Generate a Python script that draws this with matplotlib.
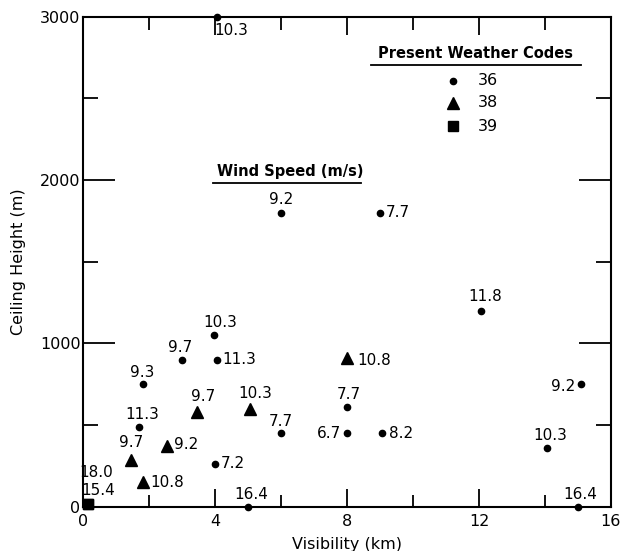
import matplotlib.pyplot as plt
from matplotlib.ticker import MultipleLocator

plt.rcParams['font.family'] = ['DejaVu Sans']
plt.rcParams['font.size'] = 11

# code 36 (dots)
vis_36 = [4.05, 6.0, 9.0, 12.05, 8.0, 8.0, 9.05, 15.1, 14.05, 15.0,
          3.95, 3.0, 4.05, 1.8, 1.7, 6.0, 4.0, 5.0]
ceil_36 = [3000, 1800, 1800, 1200, 610, 450, 450, 750, 360, 0,
           1050, 900, 900, 750, 490, 450, 260, 0]
wind_36 = ['10.3', '9.2', '7.7', '11.8', '7.7', '6.7', '8.2', '9.2', '10.3', '16.4',
           '10.3', '9.7', '11.3', '9.3', '11.3', '7.7', '7.2', '16.4']

# code 38 (triangles)
vis_38 = [8.0, 3.45, 5.05, 1.45, 2.55, 1.8]
ceil_38 = [910, 580, 600, 290, 370, 150]
wind_38 = ['10.8', '9.7', '10.3', '9.7', '9.2', '10.8']

# code 39 (squares)
vis_39 = [0.15, 0.15]
ceil_39 = [20, 20]
wind_39 = ['18.0', '15.4']

legend_codes = ['36', '38', '39']

# label placement: (dx px, dy px, ha)
off_36 = [(-3, -14, 'left'), (0, 13, 'center'), (6, 0, 'left'), (5, 14, 'center'),
          (2, 13, 'center'), (-6, 0, 'right'), (7, 0, 'left'), (-6, -2, 'right'),
          (4, 13, 'center'), (2, 12, 'center'), (7, 13, 'center'), (-2, 12, 'center'),
          (5, 0, 'left'), (0, 12, 'center'), (3, 12, 'center'), (0, 12, 'center'),
          (6, 1, 'left'), (3, 12, 'center')]
off_38 = [(10, -2, 'left'), (6, 16, 'center'), (5, 15, 'center'), (0, 17, 'center'),
          (7, 2, 'left'), (8, 0, 'left')]
off_39 = [(8, 31, 'center'), (10, 13, 'center')]

fig = plt.figure(figsize=(6.22, 5.51), dpi=100)
ax = fig.add_axes([0.134, 0.080, 0.848, 0.890])

ax.plot(vis_36, ceil_36, 'o', color='black', ms=4.5, clip_on=False, zorder=3)
ax.plot(vis_38, ceil_38, '^', color='black', ms=8, clip_on=False, zorder=3)
ax.plot(vis_39, ceil_39, 's', color='black', ms=6.5, clip_on=False, zorder=3)

for xs, ys, labs, offs in [(vis_36, ceil_36, wind_36, off_36),
                           (vis_38, ceil_38, wind_38, off_38),
                           (vis_39, ceil_39, wind_39, off_39)]:
    for x, y, t, (dx, dy, ha) in zip(xs, ys, labs, offs):
        ax.annotate(t, (x, y), xytext=(dx, dy), textcoords='offset pixels',
                    ha=ha, va='center', fontsize=11)

ax.set_xlim(0, 16)
ax.set_ylim(0, 3000)
ax.xaxis.set_major_locator(MultipleLocator(4))
ax.xaxis.set_minor_locator(MultipleLocator(2))
ax.yaxis.set_major_locator(MultipleLocator(1000))
ax.yaxis.set_minor_locator(MultipleLocator(500))
ax.tick_params(which='both', direction='in', top=True, right=True, width=1.3,
               labelsize=11.5)
ax.tick_params(axis='x', which='major', length=13, pad=5)
ax.tick_params(axis='x', which='minor', length=9)
ax.tick_params(axis='y', which='major', length=23, pad=2)
ax.tick_params(axis='y', which='minor', length=11)
for s in ax.spines.values():
    s.set_linewidth(1.5)

ax.set_xlabel('Visibility (km)', fontsize=11.5, labelpad=6)
ax.set_ylabel('Ceiling Height (m)', fontsize=11.5, labelpad=10)

# legend drawn by hand
tr = ax.transAxes
ax.text(0.744, 0.924, 'Present Weather Codes', transform=tr, ha='center', va='center',
        fontsize=10.5, fontweight='semibold')
ax.plot([0.545, 0.943], [0.901, 0.901], color='black', lw=1.3, transform=tr)
for yy, mk, ms, code in zip([0.869, 0.824, 0.776], ['o', '^', 's'], [4.5, 8, 6.5], legend_codes):
    ax.plot([0.700], [yy], mk, color='black', ms=ms, transform=tr)
    ax.text(0.747, yy, code, transform=tr, ha='left', va='center', fontsize=11.5)

ax.text(0.393, 0.683, 'Wind Speed (m/s)', transform=tr, ha='center', va='center',
        fontsize=10.5, fontweight='semibold')
ax.plot([0.245, 0.526], [0.660, 0.660], color='black', lw=1.3, transform=tr)

fig.savefig('out.png', dpi=100)
